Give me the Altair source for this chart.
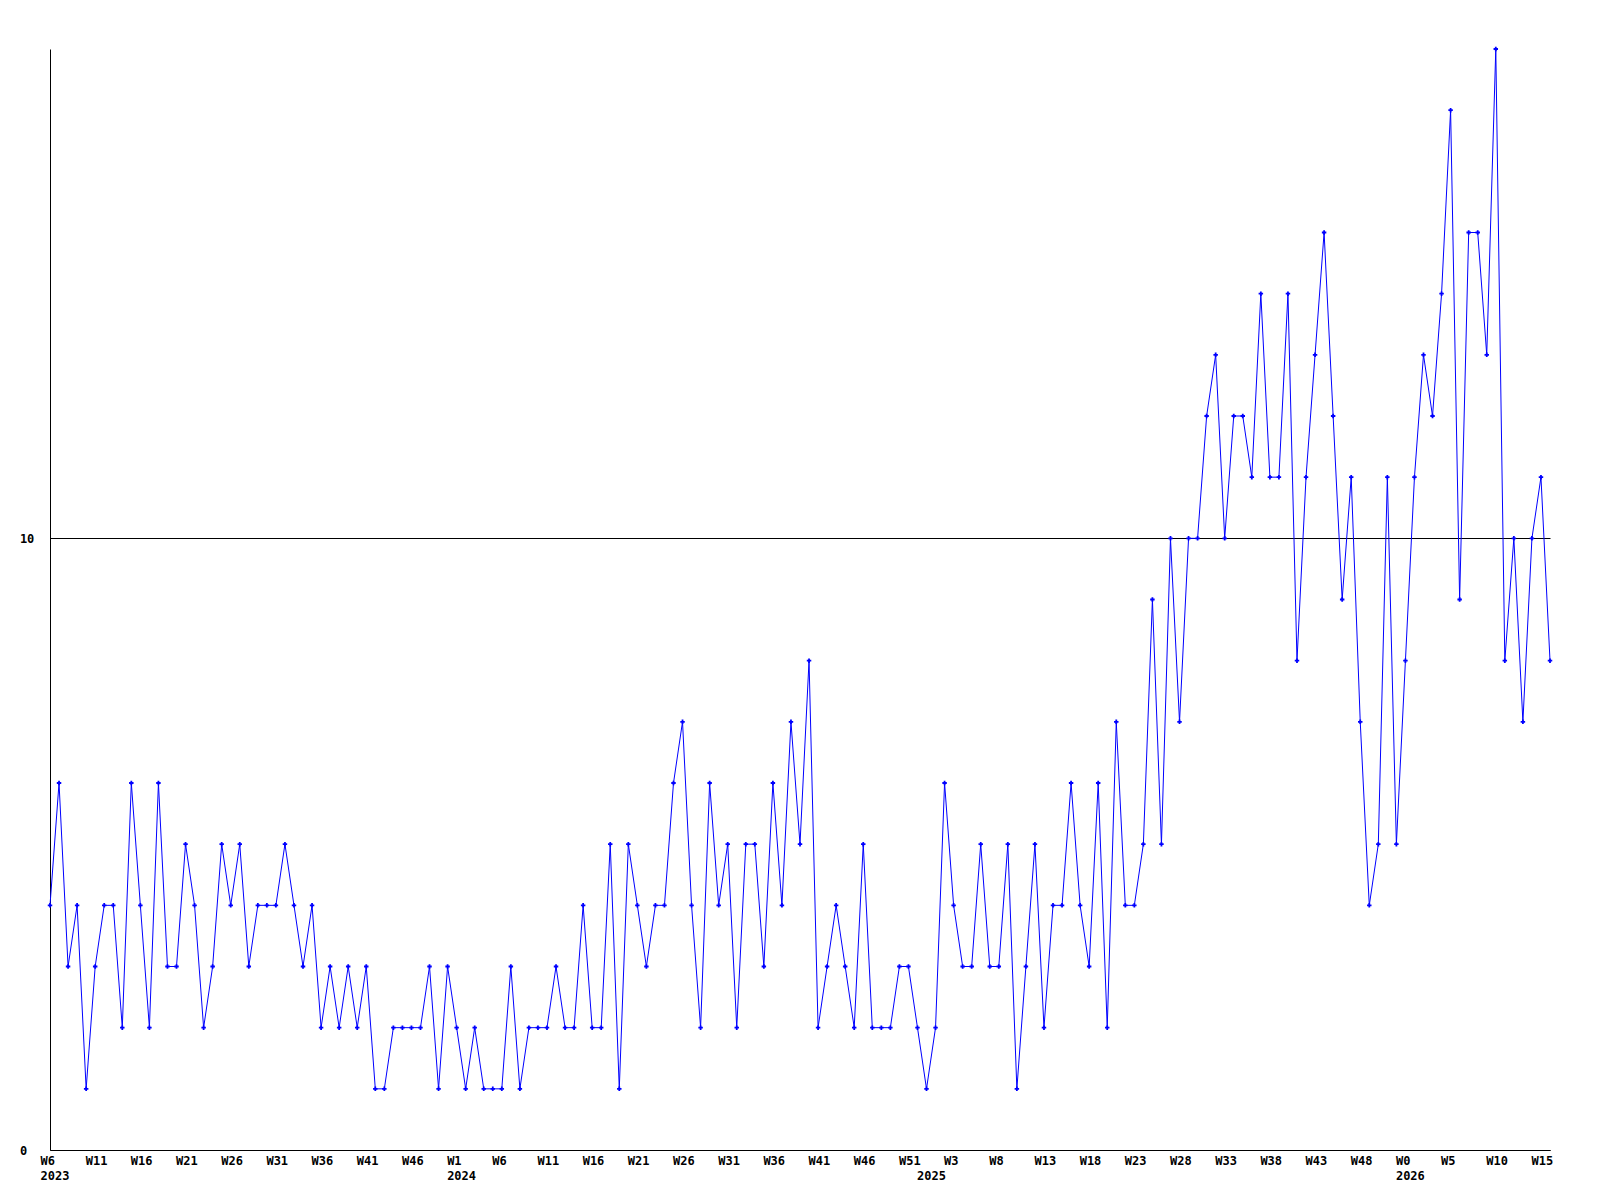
import altair as alt
import pandas as pd

# weekly values, one per point
values = [
    4, 6, 3, 4, 1, 3, 4, 4, 2, 6, 4, 2, 6, 3, 3, 5, 4, 2, 3, 5, 4, 5,
    3, 4, 4, 4, 5, 4, 3, 4, 2, 3, 2, 3, 2, 3, 1, 1, 2, 2, 2, 2, 3,
    1, 3, 2, 1, 2, 1, 1, 1, 3, 1, 2, 2, 2, 3, 2, 2, 4, 2, 2, 5, 1,
    5, 4, 3, 4, 4, 6, 7, 4, 2, 6, 4, 5, 2, 5, 5, 3, 6, 4, 7, 5, 8,
    2, 3, 4, 3, 2, 5, 2, 2, 2, 3, 3, 2, 1, 2, 6, 4, 3, 3, 5, 3, 3,
    5, 1, 3, 5, 2, 4, 4, 6, 4, 3, 6, 2, 7, 4, 4, 5, 9, 5, 10, 7, 10,
    10, 12, 13, 10, 12, 12, 11, 14, 11, 11, 14, 8, 11, 13, 15, 12, 9, 11, 7, 4, 5,
    11, 5, 8, 11, 13, 12, 14, 17, 9, 15, 15, 13, 18, 8, 10, 7, 10, 11, 8,
]

# labels shown under every 5th point
tick_step = 5
tick_weeks = [
    "W6", "W11", "W16", "W21", "W26", "W31", "W36", "W41", "W46",
    "W1", "W6", "W11", "W16", "W21", "W26", "W31", "W36", "W41", "W46", "W51",
    "W3", "W8", "W13", "W18", "W23", "W28", "W33", "W38", "W43", "W48",
    "W0", "W5", "W10", "W15",
]
year_labels = ["2023", "2024", "2025", "2026"]
year_index = [0, 45, 97, 150]

y_ticks = [0, 10]
y_max = 18

df = pd.DataFrame({"i": list(range(len(values))), "v": values})

tick_values = list(range(0, len(values), tick_step))
axis_values = sorted(set(tick_values + year_index))
week_arr = "[" + ",".join(f"'{w}'" for w in tick_weeks) + "]"
ypos = "[" + ",".join(str(p) for p in year_index) + "]"
ytxt = "[" + ",".join(f"'{y}'" for y in year_labels) + "]"
label_expr = (
    f"[(datum.value % {tick_step} == 0 ? {week_arr}[datum.value / {tick_step}] : ''), "
    f"(indexof({ypos}, datum.value) >= 0 ? {ytxt}[indexof({ypos}, datum.value)] : '')]"
)

FONT = "DejaVu Sans Mono"

x_enc = alt.X(
    "i:Q",
    scale=alt.Scale(domain=[0, len(values) - 1], nice=False, zero=False),
    axis=alt.Axis(
        values=axis_values,
        labelExpr=label_expr,
        labelAlign="left",
        labelOffset=-10,
        labelBaseline="top",
        labelPadding=5,
        labelLineHeight=15.5,
        ticks=False,
        tickSize=0,
        grid=False,
        domainColor="black",
        domainWidth=1,
        labelFont=FONT,
        labelFontWeight="bold",
        labelFontSize=12,
        labelColor="black",
        labelOverlap=False,
        labelFlush=False,
        title=None,
    ),
)
y_enc = alt.Y(
    "v:Q",
    scale=alt.Scale(domain=[0, y_max], nice=False, zero=True),
    axis=alt.Axis(
        values=y_ticks,
        format="d",
        grid=True,
        gridColor="black",
        gridOpacity=1,
        gridWidth=1,
        ticks=False,
        tickSize=0,
        domainColor="black",
        domainWidth=1,
        labelAlign="left",
        labelBaseline="middle",
        labelPadding=30.6,
        labelFont=FONT,
        labelFontWeight="bold",
        labelFontSize=12,
        labelColor="black",
        labelFlush=False,
        labelOverlap=False,
        title=None,
    ),
)

line = alt.Chart(df).mark_line(color="#0000ff", strokeWidth=1).encode(x=x_enc, y=y_enc)
pts = alt.Chart(df).mark_point(
    shape="cross", filled=True, size=20, color="#0000ff", opacity=1
).encode(x="i:Q", y="v:Q")

chart = (
    alt.layer(line, pts)
    .properties(
        width=1500,
        height=1101,
        autosize=alt.AutoSizeParams(type="none"),
        padding={"left": 42, "top": 41, "right": 30, "bottom": 40},
        background="white",
    )
    .configure_view(stroke=None)
)

chart.save("out.html", embed_options={"renderer": "svg", "actions": False})
